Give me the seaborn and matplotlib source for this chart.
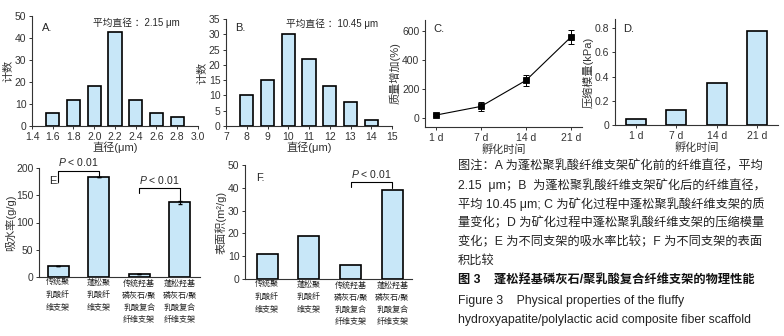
import numpy as np
import pandas as pd
import seaborn as sns
from matplotlib import pyplot as plt
from matplotlib.ticker import FuncFormatter

# panel A: fibre diameter before mineralisation
diam_a = [1.6, 1.8, 2.0, 2.2, 2.4, 2.6, 2.8]
count_a = [6, 12, 18, 42.5, 12, 6, 4]
# panel B: fibre diameter after mineralisation
diam_b = [8, 9, 10, 11, 12, 13, 14]
count_b = [10, 15, 30, 22, 13, 8, 2]
# panel C / D: mineralisation time course
days = ["1 d", "7 d", "14 d", "21 d"]
mass_gain = [20, 80, 260, 560]
mass_err = [6, 30, 38, 50]
modulus = [0.05, 0.125, 0.35, 0.78]
# panel E / F: scaffold comparison
scaffolds = ["传统聚\n乳酸纤\n维支架", "蓬松聚\n乳酸纤\n维支架",
             "传统羟基\n磷灰石/聚\n乳酸复合\n纤维支架", "蓬松羟基\n磷灰石/聚\n乳酸复合\n纤维支架"]
water = [20, 183, 5, 137]
water_err = [0, 0, 0, 3]
area = [11, 19, 6, 39]

caption = [
    "图注：A 为蓬松聚乳酸纤维支架矿化前的纤维直径，平均",
    "2.15  μm；B  为蓬松聚乳酸纤维支架矿化后的纤维直径，",
    "平均 10.45 μm; C 为矿化过程中蓬松聚乳酸纤维支架的质",
    "量变化；D 为矿化过程中蓬松聚乳酸纤维支架的压缩模量",
    "变化；E 为不同支架的吸水率比较；F 为不同支架的表面",
    "积比较",
]
fig_title = "图 3    蓬松羟基磷灰石/聚乳酸复合纤维支架的物理性能"
fig_title_en = ["Figure 3    Physical properties of the fluffy",
                "hydroxyapatite/polylactic acid composite fiber scaffold"]

sns.set_theme(style="ticks")
plt.rcParams["font.family"] = ["Liberation Sans", "Noto Sans CJK SC", "DejaVu Sans"]
plt.rcParams["mathtext.fontset"] = "custom"
plt.rcParams["mathtext.it"] = "Liberation Sans:italic"
plt.rcParams["mathtext.rm"] = "Liberation Sans"
plt.rcParams["axes.linewidth"] = 0.8
plt.rcParams["axes.edgecolor"] = "#333333"
plt.rcParams["xtick.color"] = "#333333"
plt.rcParams["ytick.color"] = "#333333"
plt.rcParams["xtick.labelsize"] = 7.5
plt.rcParams["ytick.labelsize"] = 7.5
plt.rcParams["xtick.major.size"] = 2.5
plt.rcParams["ytick.major.size"] = 2.5
plt.rcParams["xtick.major.width"] = 0.7
plt.rcParams["ytick.major.width"] = 0.7
plt.rcParams["axes.labelsize"] = 8
plt.rcParams["axes.labelcolor"] = "#333333"

BAR = "#c8e7f8"
W, H = 784, 336


def box(x0, x1, ytop, ybot):
    # pixel box -> figure fraction
    return [x0 / W, 1 - ybot / H, (x1 - x0) / W, (ybot - ytop) / H]


fig = plt.figure(figsize=(7.84, 3.36), dpi=100)
bar_kw = dict(color=BAR, saturation=1, edgecolor="black", linewidth=1.2)


def finish(ax):
    sns.despine(ax=ax)
    ax.tick_params(pad=1.5)


def bracket(ax, i, j, top, left_low, right_low):
    ax.plot([i, i, j, j], [left_low, top, top, right_low], color="black", lw=0.8, clip_on=False)


def scaffold_ticks(ax):
    ax.tick_params(axis="x", labelsize=5.8, length=0, pad=3, labelcolor="#222222")
    for t in ax.get_xticklabels():
        t.set_linespacing(1.7)


# A
ax = fig.add_axes(box(32, 198, 16, 126))
sns.barplot(x=diam_a, y=count_a, native_scale=True, width=0.65, ax=ax, **bar_kw)
ax.set_xlim(1.4, 3.0)
ax.set_ylim(0, 50)
ax.set_xticks(np.arange(1.4, 3.01, 0.2))
ax.xaxis.set_major_formatter(FuncFormatter(lambda v, p: f"{v:.1f}"))
ax.set_yticks(range(0, 51, 10))
ax.set_xlabel("直径(μm)", labelpad=0)
ax.set_ylabel("计数", labelpad=1)
ax.text(1.5, 43, "A.", fontsize=8)
ax.text(1.99, 45.5, "平均直径 ：2.15 μm", fontsize=7)
finish(ax)

# B
ax = fig.add_axes(box(226, 392, 19, 126))
sns.barplot(x=diam_b, y=count_b, native_scale=True, width=0.65, ax=ax, **bar_kw)
ax.set_xlim(7, 15)
ax.set_ylim(0, 35)
ax.set_xticks(range(7, 16))
ax.set_yticks(range(0, 36, 5))
ax.set_xlabel("直径(μm)", labelpad=0)
ax.set_ylabel("计数", labelpad=1)
ax.text(7.45, 31, "B.", fontsize=8)
ax.text(9.9, 32.3, "平均直径 ：10.45 μm", fontsize=7)
finish(ax)

# C
ax = fig.add_axes(box(425, 582, 20, 127))
sns.pointplot(x=days, y=mass_gain, markers="s", color="black", ax=ax,
              markersize=4, linewidth=0.8)
ax.errorbar(range(len(days)), mass_gain, yerr=mass_err, fmt="none",
            ecolor="black", elinewidth=0.7, capsize=2, capthick=0.7)
ax.set_xlim(-0.24, 3.24)
ax.set_ylim(-62, 676)
ax.set_yticks([0, 200, 400, 600])
ax.set_xlabel("孵化时间", labelpad=1)
ax.set_ylabel("质量增加(%)", labelpad=1)
ax.text(-0.06, 595, "C.", fontsize=8)
finish(ax)

# D
ax = fig.add_axes(box(615, 778, 19, 125))
sns.barplot(x=days, y=modulus, width=0.5, ax=ax, **bar_kw)
ax.set_xlim(-0.52, 3.52)
ax.set_ylim(0, 0.876)
ax.set_yticks([0, 0.2, 0.4, 0.6, 0.8])
ax.yaxis.set_major_formatter(FuncFormatter(lambda v, p: "0" if v == 0 else f"{v:.1f}"))
ax.set_xlabel("孵化时间", labelpad=1)
ax.set_ylabel("压缩模量(kPa)", labelpad=1)
ax.text(-0.32, 0.77, "D.", fontsize=8)
finish(ax)

# E
ax = fig.add_axes(box(39, 200, 168, 277))
sns.barplot(x=scaffolds, y=water, width=0.52, ax=ax, **bar_kw)
ax.errorbar(range(len(scaffolds)), water, yerr=water_err, fmt="none",
            ecolor="black", elinewidth=0.7, capsize=1.5)
ax.set_xlim(-0.47, 3.5)
ax.set_ylim(0, 200)
ax.set_yticks(range(0, 201, 50))
ax.set_ylabel("吸水率(g/g)", labelpad=0)
scaffold_ticks(ax)
ax.text(-0.22, 170, "E.", fontsize=8)
bracket(ax, 0, 1, water[1] + 12, water[1] - 8, water[1] + 2)
ax.text(0.5, water[1] + 20, r"$\mathit{P}$ < 0.01", ha="center", fontsize=7.5)
bracket(ax, 2, 3, water[3] + 26, water[3] + 18, water[3] + 4)
ax.text(2.5, water[3] + 34, r"$\mathit{P}$ < 0.01", ha="center", fontsize=7.5)
finish(ax)

# F
ax = fig.add_axes(box(245, 412, 165, 279))
sns.barplot(x=scaffolds, y=area, width=0.5, ax=ax, **bar_kw)
ax.set_xlim(-0.53, 3.47)
ax.set_ylim(0, 50)
ax.set_yticks(range(0, 51, 10))
ax.set_ylabel("表面积(m²/g)", labelpad=1)
scaffold_ticks(ax)
ax.text(-0.27, 43, "F.", fontsize=8)
bracket(ax, 2, 3, area[3] + 3.5, area[3] + 1.5, area[3] + 1)
ax.text(2.5, area[3] + 5.5, r"$\mathit{P}$ < 0.01", ha="center", fontsize=7.5)
finish(ax)

# caption block
y = 166
for line in caption:
    fig.text(458 / W, 1 - y / H, line, fontsize=8.8, va="center", color="#222222")
    y += 19
fig.text(458 / W, 1 - 281 / H, fig_title, fontsize=8.8, va="center", color="#111111",
         fontweight="bold")
fig.text(458 / W, 1 - 301 / H, fig_title_en[0], fontsize=8.8, va="center", color="#222222")
fig.text(458 / W, 1 - 320 / H, fig_title_en[1], fontsize=8.8, va="center", color="#222222")

fig.savefig("out.png", dpi=100)
